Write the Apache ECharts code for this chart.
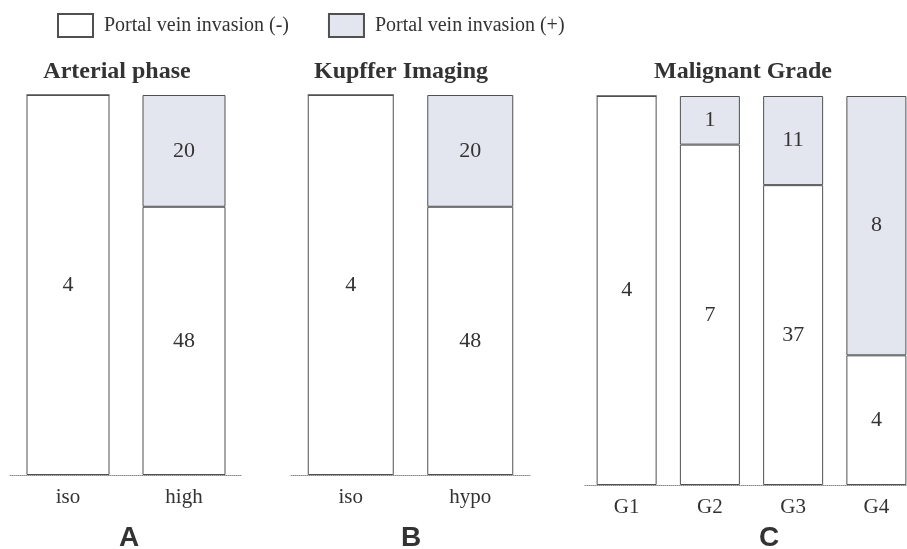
<!DOCTYPE html>
<html>
<head>
<meta charset="utf-8">
<script src="https://cdn.jsdelivr.net/npm/echarts@6/dist/echarts.min.js"></script>
<style>
  html, body { margin: 0; padding: 0; background: #fff; overflow: hidden; }
  /* a little wider than the window so the last panel's baseline runs off the edge */
  #chart { width: 920px; height: 549px; }
</style>
</head>
<body>
<div id="chart"></div>
<script>
// Patient counts per panel: portal vein invasion negative / positive
const panelTitles = ['Arterial phase', 'Kupffer Imaging', 'Malignant Grade'];
const panelLetters = ['A', 'B', 'C'];
const arterialCategories = ['iso', 'high'];
const arterialNeg = [4, 48];
const arterialPos = [0, 20];
const kupfferCategories = ['iso', 'hypo'];
const kupfferNeg = [4, 48];
const kupfferPos = [0, 20];
const gradeCategories = ['G1', 'G2', 'G3', 'G4'];
const gradeNeg = [4, 7, 37, 4];
const gradePos = [0, 1, 11, 8];
const seriesNames = ['Portal vein invasion (-)', 'Portal vein invasion (+)'];

const panels = [
  { cats: arterialCategories, neg: arterialNeg, pos: arterialPos },
  { cats: kupfferCategories, neg: kupfferNeg, pos: kupfferPos },
  { cats: gradeCategories, neg: gradeNeg, pos: gradePos }
];

// Layout of each panel (pixels)
const grids = [
  { left: 10, width: 232, top: 95, height: 380, barWidth: 83 },
  { left: 291, width: 239, top: 95, height: 380, barWidth: 86 },
  { left: 585, width: 333, top: 96, height: 389, barWidth: 60 }
];
const titleCenters = [117, 401, 743];
const letterCenters = [129, 411, 769];

const serif = 'Liberation Serif';
const posFill = '#e3e6ee';
const edge = '#505050';
const ink = '#333';

function share(part, a, b) {
  return part.map((v, i) => (v / (a[i] + b[i])) * 100);
}

const option = {
  animation: false,
  backgroundColor: '#fff',
  legend: {
    left: 57, top: 13, padding: 0,
    itemWidth: 35, itemHeight: 23, itemGap: 39,
    icon: 'rect',
    data: seriesNames,
    textStyle: { fontFamily: serif, fontSize: 20, color: ink, padding: [0, 0, 0, 6] }
  },
  graphic: [],
  grid: [], xAxis: [], yAxis: [], series: []
};

panels.forEach((p, k) => {
  const g = grids[k];
  option.grid.push({ left: g.left, width: g.width, top: g.top, height: g.height });
  option.xAxis.push({
    type: 'category', gridIndex: k, data: p.cats,
    axisLine: { lineStyle: { color: '#8a8a8a', width: 1, type: [1, 1] } },
    axisTick: { show: false },
    axisLabel: { fontFamily: serif, fontSize: 21, color: ink, margin: 12 }
  });
  option.yAxis.push({ type: 'value', gridIndex: k, min: 0, max: 100, show: false, splitLine: { show: false } });
  option.graphic.push({
    type: 'text', x: titleCenters[k], y: 72,
    style: {
      text: panelTitles[k], align: 'center', verticalAlign: 'middle',
      font: 'bold 24px "Liberation Serif"', fill: ink
    }
  });
  option.graphic.push({
    type: 'text', x: letterCenters[k], y: 538,
    style: {
      text: panelLetters[k], align: 'center', verticalAlign: 'middle',
      font: 'bold 28px "Liberation Sans"', fill: ink
    }
  });
  const counts = [p.neg, p.pos];
  counts.forEach((vals, s) => {
    const pct = share(vals, p.neg, p.pos);
    option.series.push({
      name: seriesNames[s], type: 'bar', stack: 'p' + k,
      xAxisIndex: k, yAxisIndex: k, barWidth: g.barWidth,
      itemStyle: { color: s === 0 ? '#fff' : posFill, borderColor: edge, borderWidth: 1 },
      label: {
        show: true, position: 'inside',
        fontFamily: serif, fontSize: 22, color: ink,
        formatter: (d) => (vals[d.dataIndex] ? String(vals[d.dataIndex]) : '')
      },
      data: pct
    });
  });
});

const chart = echarts.init(document.getElementById('chart'), null, { renderer: 'canvas' });
chart.setOption(option);
</script>
</body>
</html>
